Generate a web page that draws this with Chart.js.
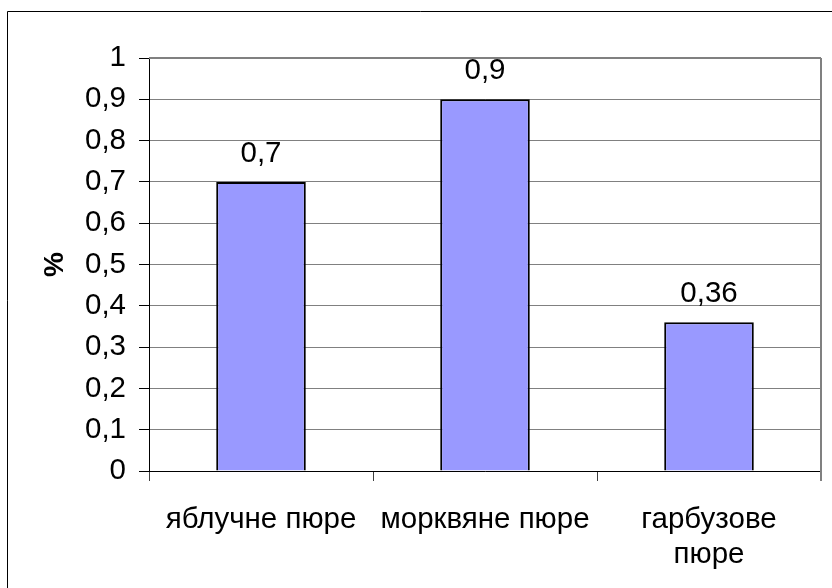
<!DOCTYPE html>
<html>
<head>
<meta charset="utf-8">
<script src="https://cdn.jsdelivr.net/npm/chart.js@4"></script>
<style>
  html, body { margin: 0; padding: 0; background: #fff; }
  canvas { display: block; }
</style>
</head>
<body>
<canvas id="chart" width="832" height="588"></canvas>
<script>
// Categories (the last one wraps onto two lines)
const categories = ['яблучне пюре', 'морквяне пюре', ['гарбузове', 'пюре']];
// Measured share, %
const values = [0.7, 0.9, 0.36];
// Value-axis tick labels, 0 to 1 in steps of 0.1 (decimal comma)
const yTickLabels = ['0', '0,1', '0,2', '0,3', '0,4', '0,5', '0,6', '0,7', '0,8', '0,9', '1'];
const yAxisTitle = '%';

const FONT = "'Liberation Sans', Arial, sans-serif";
const TEXT_SIZE = 29.5;
const fmt = v => String(v).replace('.', ',');

// Frame around the whole figure
const framePlugin = {
  id: 'frame',
  beforeDraw(chart) {
    const ctx = chart.ctx;
    ctx.save();
    ctx.fillStyle = '#fff';
    ctx.fillRect(0, 0, chart.width, chart.height);
    ctx.strokeStyle = '#000';
    ctx.lineWidth = 1;
    ctx.beginPath();
    ctx.moveTo(7.5, chart.height + 2);
    ctx.lineTo(7.5, 11.5);
    ctx.lineTo(chart.width + 2, 11.5);
    ctx.stroke();
    ctx.restore();
  }
};

// Grey border on the right of the plot area, running down to the tick row
const plotBorderPlugin = {
  id: 'plotBorder',
  afterDatasetsDraw(chart) {
    const { ctx, chartArea } = chart;
    ctx.save();
    ctx.strokeStyle = '#808080';
    ctx.lineWidth = 2;
    ctx.beginPath();
    ctx.moveTo(chartArea.right, chartArea.top);
    ctx.lineTo(chartArea.right, chartArea.bottom + 10);
    ctx.moveTo(chartArea.left, chartArea.top);
    ctx.lineTo(chartArea.right, chartArea.top);
    ctx.stroke();
    ctx.restore();
  }
};

// Value labels above each bar
const valueLabelPlugin = {
  id: 'valueLabels',
  afterDatasetsDraw(chart) {
    const ctx = chart.ctx;
    const meta = chart.getDatasetMeta(0);
    ctx.save();
    ctx.font = TEXT_SIZE + 'px ' + FONT;
    ctx.fillStyle = '#000';
    ctx.textAlign = 'center';
    ctx.textBaseline = 'alphabetic';
    meta.data.forEach((bar, i) => {
      ctx.fillText(fmt(chart.data.datasets[0].data[i]), bar.x, bar.y - 20);
    });
    ctx.restore();
  }
};

new Chart(document.getElementById('chart'), {
  type: 'bar',
  data: {
    labels: categories,
    datasets: [{
      data: values,
      backgroundColor: '#9999FF',
      borderColor: '#000',
      borderWidth: 2,
      barPercentage: 0.4,
      categoryPercentage: 1
    }]
  },
  options: {
    responsive: false,
    animation: false,
    devicePixelRatio: 1,
    layout: { padding: { top: 58, right: 11, bottom: 0, left: 0 } },
    plugins: {
      legend: { display: false },
      tooltip: { enabled: false }
    },
    scales: {
      x: {
        afterFit(scale) { scale.height = 117; },
        grid: {
          offset: true,
          drawOnChartArea: false,
          drawTicks: true,
          tickLength: 10,
          tickColor: '#404040',
          lineWidth: 1
        },
        border: { color: '#000', width: 1 },
        ticks: {
          color: '#000',
          padding: 21,
          maxRotation: 0,
          autoSkip: false,
          font: { family: FONT, size: TEXT_SIZE, lineHeight: 1.19 }
        }
      },
      y: {
        min: 0,
        max: 1,
        afterFit(scale) { scale.width = 149; },
        afterBuildTicks(scale) {
          scale.ticks = yTickLabels.map((_, i) => ({ value: i / 10 }));
        },
        grid: {
          color: '#808080',
          lineWidth: 1,
          drawTicks: true,
          tickLength: 10,
          tickColor: '#000'
        },
        border: { color: '#000', width: 1 },
        ticks: {
          color: '#000',
          padding: 13,
          font: { family: FONT, size: TEXT_SIZE },
          callback: (v, i) => yTickLabels[i]
        },
        title: {
          display: true,
          text: yAxisTitle,
          color: '#000',
          padding: { top: 41, bottom: 0 },
          font: { family: FONT, size: 28, weight: 'bold', lineHeight: 1 }
        }
      }
    }
  },
  plugins: [framePlugin, plotBorderPlugin, valueLabelPlugin]
});
</script>
</body>
</html>
